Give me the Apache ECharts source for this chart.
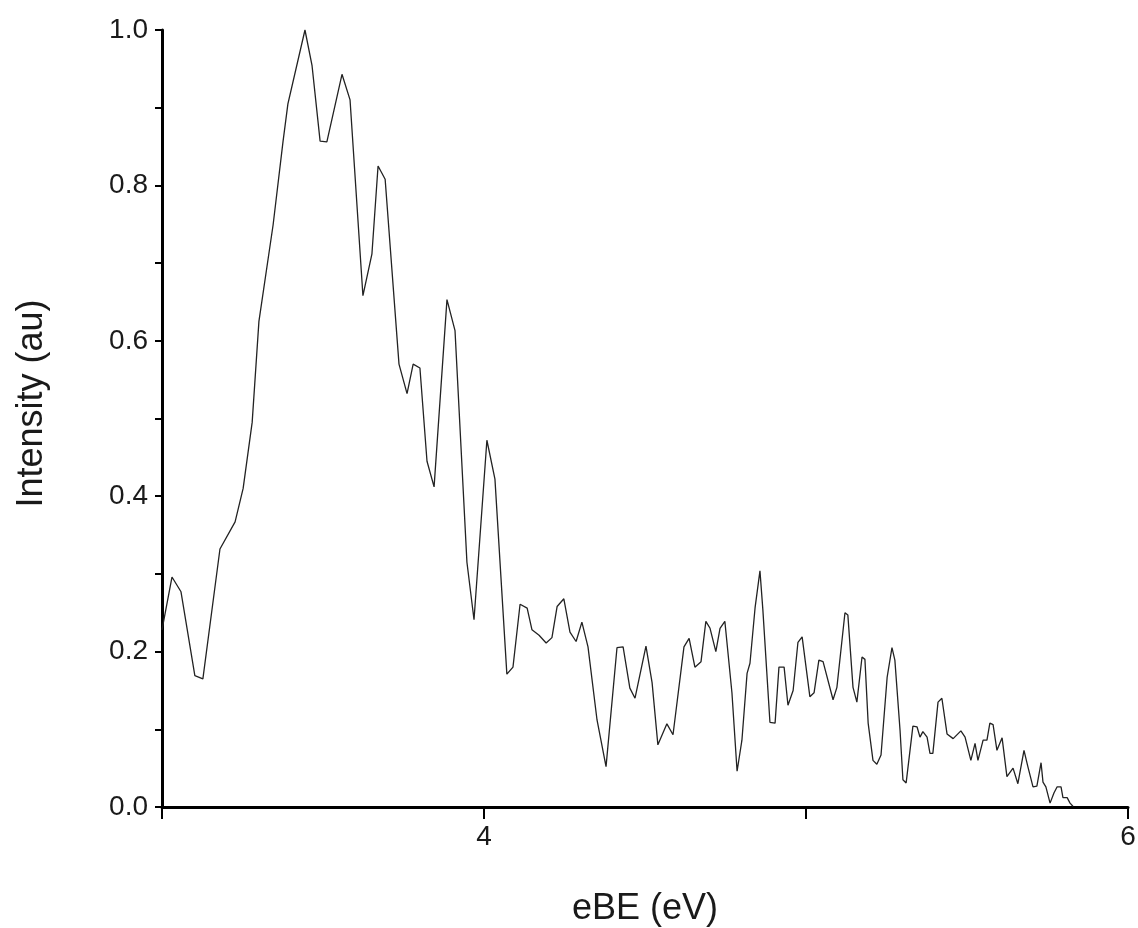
<!DOCTYPE html>
<html>
<head>
<meta charset="utf-8">
<script src="https://cdn.jsdelivr.net/npm/echarts@6/dist/echarts.min.js"></script>
<style>
html,body{margin:0;padding:0;background:#fff;}
#chart{width:1138px;height:928px;}
</style>
</head>
<body>
<div id="chart"></div>
<script>
// eBE values (eV)
const ebe = [
3.000,3.031,3.059,3.102,3.127,3.180,3.227,3.252,3.280,3.301,3.345,3.376,3.391,3.444,3.466,3.491,3.512,3.559,3.584,
3.624,3.652,3.671,3.693,3.736,3.761,3.780,3.801,3.823,3.845,3.885,3.910,3.947,3.969,4.009,4.034,4.071,4.090,
4.112,4.134,4.149,4.171,4.193,4.211,4.227,4.248,4.267,4.286,4.304,4.323,4.351,4.379,4.413,4.432,4.453,4.469,
4.503,4.522,4.540,4.568,4.587,4.621,4.637,4.655,4.674,4.689,4.702,4.720,4.733,4.748,4.770,4.786,4.801,4.817,
4.826,4.842,4.857,4.866,4.888,4.904,4.916,4.932,4.944,4.960,4.975,4.988,5.012,5.025,5.040,5.053,5.084,5.096,
5.121,5.130,5.146,5.158,5.174,5.183,5.193,5.208,5.220,5.233,5.252,5.267,5.276,5.292,5.301,5.311,5.332,5.345,
5.354,5.363,5.376,5.385,5.394,5.410,5.422,5.438,5.457,5.481,5.494,5.512,5.525,5.534,5.550,5.562,5.571,5.581,
5.593,5.609,5.624,5.643,5.658,5.677,5.689,5.705,5.717,5.730,5.736,5.745,5.758,5.770,5.780,5.792,5.798,5.811,
5.820,5.829
];
// Intensity (au)
const intensity = [
0.228,0.296,0.277,0.169,0.165,0.332,0.367,0.410,0.495,0.625,0.749,0.857,0.905,1.000,0.954,0.857,0.856,0.943,0.910,
0.658,0.712,0.825,0.808,0.570,0.532,0.570,0.565,0.445,0.412,0.653,0.613,0.315,0.241,0.472,0.422,0.171,0.180,
0.261,0.256,0.228,0.221,0.211,0.218,0.258,0.268,0.225,0.213,0.238,0.206,0.112,0.052,0.205,0.206,0.153,0.140,
0.207,0.160,0.080,0.107,0.093,0.206,0.217,0.180,0.187,0.239,0.230,0.200,0.230,0.239,0.147,0.046,0.086,0.172,
0.185,0.257,0.304,0.254,0.109,0.108,0.180,0.180,0.131,0.150,0.212,0.219,0.142,0.147,0.189,0.187,0.138,0.154,
0.250,0.247,0.154,0.135,0.193,0.190,0.108,0.060,0.055,0.067,0.167,0.205,0.189,0.099,0.035,0.031,0.104,0.103,
0.090,0.097,0.090,0.069,0.069,0.135,0.140,0.094,0.088,0.098,0.090,0.060,0.082,0.060,0.086,0.086,0.108,0.106,
0.073,0.089,0.039,0.050,0.030,0.073,0.052,0.026,0.027,0.057,0.032,0.026,0.005,0.018,0.026,0.026,0.012,0.012,
0.005,0.001
];
const xLabels = [4, 6];
const xTitle = 'eBE (eV)';
const yTitle = 'Intensity (au)';

const chart = echarts.init(document.getElementById('chart'), null, {renderer: 'canvas'});
const font = 'Liberation Sans, Arial, sans-serif';
const txt = '#1a1a1a';
chart.setOption({
  animation: false,
  backgroundColor: '#fff',
  grid: {left: 162, right: 10, top: 30, bottom: 121, containLabel: false, outerBoundsMode: 'none'},
  xAxis: {
    type: 'value', min: 3, max: 6, interval: 1,
    name: xTitle, nameLocation: 'middle', nameGap: 84,
    nameTextStyle: {fontFamily: font, fontSize: 36, color: txt},
    axisLine: {show: true, onZero: false, lineStyle: {color: '#000', width: 3}},
    axisTick: {show: true, inside: false, length: 12, lineStyle: {color: '#000', width: 2}},
    axisLabel: {
      margin: 16, fontFamily: font, fontSize: 28, color: txt,
      formatter: v => xLabels.includes(Math.round(v)) ? String(Math.round(v)) : ''
    },
    splitLine: {show: false}
  },
  yAxis: {
    type: 'value', min: 0, max: 1, interval: 0.1,
    name: yTitle, nameLocation: 'middle', nameGap: 112, nameRotate: 90,
    nameTextStyle: {fontFamily: font, fontSize: 36, color: txt, padding: [0, 0, 0, 30]},
    axisLine: {show: true, lineStyle: {color: '#000', width: 3}},
    axisTick: {show: true, inside: false, length: 7, lineStyle: {color: '#000', width: 2}},
    axisLabel: {
      margin: 14, fontFamily: font, fontSize: 28, color: txt,
      formatter: v => (Math.round(v * 10) % 2 === 0) ? v.toFixed(1) : ''
    },
    splitLine: {show: false}
  },
  series: [{
    type: 'line',
    data: ebe.map((x, i) => [x, intensity[i]]),
    showSymbol: false,
    symbol: 'none',
    lineStyle: {color: '#222', width: 1.3},
    clip: true
  }]
});
</script>
</body>
</html>
